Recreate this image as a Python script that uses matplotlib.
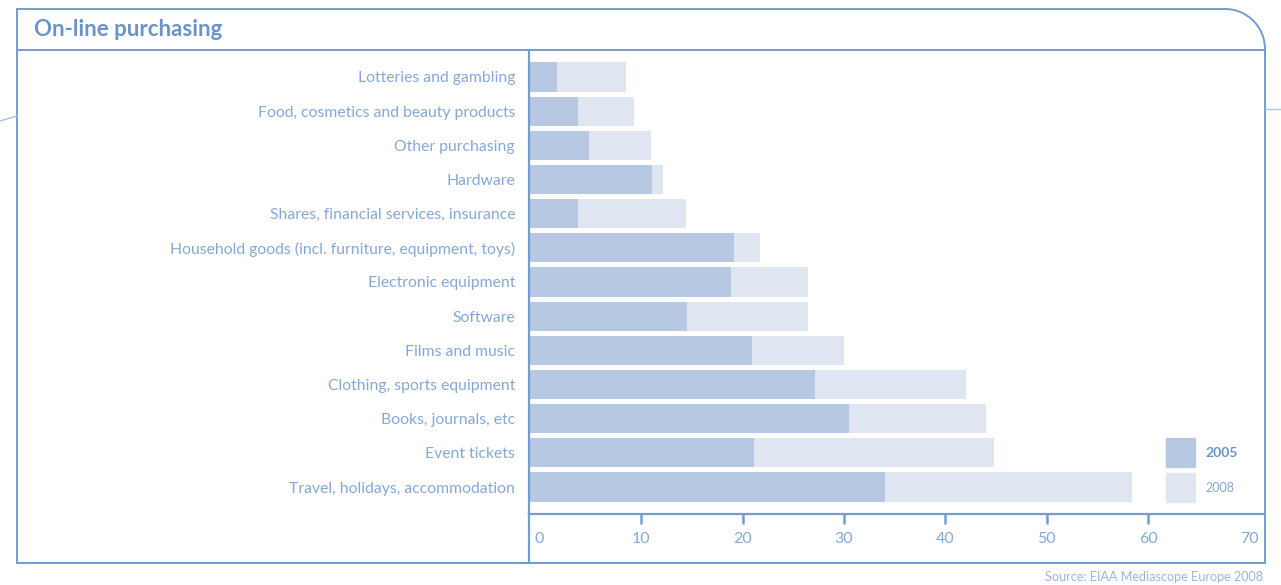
import matplotlib.pyplot as plt
from matplotlib.patches import Arc
from matplotlib.lines import Line2D

categories = [
    "Lotteries and gambling",
    "Food, cosmetics and beauty products",
    "Other purchasing",
    "Hardware",
    "Shares, financial services, insurance",
    "Household goods (incl. furniture, equipment, toys)",
    "Electronic equipment",
    "Software",
    "Films and music",
    "Clothing, sports equipment",
    "Books, journals, etc",
    "Event tickets",
    "Travel, holidays, accommodation",
]
values_2005 = [1.7, 3.8, 4.9, 11.1, 3.8, 19.2, 18.9, 14.5, 20.9, 27.1, 30.5, 21.1, 34.0]
values_2008 = [8.5, 9.3, 11.0, 12.2, 14.4, 21.7, 26.5, 26.5, 30.0, 42.0, 44.0, 44.8, 58.4]
xticks = [0, 10, 20, 30, 40, 50, 60, 70]
series_names = ["2005", "2008"]

W, H = 1281, 585
LINE = "#729dd1"
TEXT = "#86a8d6"
TITLE = "#6a93c9"
C2005 = "#b7c8e3"
C2008 = "#dfe6f2"
FONT = "Lato"

plt.rcParams["font.family"] = [FONT, "DejaVu Sans"]

fig = plt.figure(figsize=(W / 100, H / 100), dpi=100)


def fx(px):
    return px / W


def fy(py):
    return 1 - py / H


# plot area
x0, x1 = -1.05, 71.5
ax = fig.add_axes([fx(529), fy(514), fx(1265) - fx(529), fy(50) - fy(514)])
ypos = list(range(len(categories)))
ax.barh(ypos, [v - x0 for v in values_2008], left=x0, height=0.85, color=C2008, zorder=1)
ax.barh(ypos, [v - x0 for v in values_2005], left=x0, height=0.85, color=C2005, zorder=2)
ax.set_xlim(x0, x1)
ax.set_ylim(len(categories) - 0.21, -0.79)

ax.set_yticks(ypos)
ax.set_yticklabels(categories, fontsize=11.3, color=TEXT)
ax.tick_params(axis="y", length=0, pad=10)
ax.set_xticks(xticks)
ax.set_xticklabels([str(t) for t in xticks], fontsize=11.5, color=TEXT)
ax.tick_params(axis="x", length=7, width=1.8, color=LINE, direction="out", pad=6)
ticks = ax.xaxis.get_major_ticks()
ticks[0].tick1line.set_visible(False)
ticks[-1].tick1line.set_visible(False)

for side in ["top", "right"]:
    ax.spines[side].set_visible(False)
for side in ["left", "bottom"]:
    ax.spines[side].set_color(LINE)
    ax.spines[side].set_linewidth(1.6)
ax.spines["left"].set_bounds(len(categories) - 0.21, -0.79)

# extend left spine down to bottom of frame
fig.add_artist(Line2D([fx(529), fx(529)], [fy(514), fy(563)], color=LINE, lw=1.6))

# legend
for i, (name, col) in enumerate(zip(series_names, [C2005, C2008])):
    top = 438 + i * 35
    fig.patches.append(plt.Rectangle((fx(1166), fy(top + 29)), fx(29), fy(top) - fy(top + 29),
                                     transform=fig.transFigure, color=col, figure=fig))
    fig.text(fx(1205), fy(top + 15), name, fontsize=10 if i == 0 else 9, color=TITLE if i == 0 else TEXT,
             fontweight="bold" if i == 0 else "normal", va="center", ha="left")

# frame with rounded top-right corner
r = 40
left, right, top, bottom = 17, 1265, 9, 563
lw = 1.4
fig.add_artist(Line2D([fx(left), fx(left)], [fy(top), fy(bottom)], color=LINE, lw=lw))
fig.add_artist(Line2D([fx(left), fx(right)], [fy(bottom), fy(bottom)], color=LINE, lw=lw))
fig.add_artist(Line2D([fx(right), fx(right)], [fy(bottom), fy(top + r)], color=LINE, lw=lw))
fig.add_artist(Line2D([fx(left), fx(right - r)], [fy(top), fy(top)], color=LINE, lw=lw))
fig.add_artist(Arc((fx(right - r), fy(top + r)), fx(2 * r), 2 * r / H, theta1=0, theta2=90,
                   transform=fig.transFigure, color=LINE, lw=lw))
fig.add_artist(Line2D([fx(left), fx(right)], [fy(50), fy(50)], color=LINE, lw=lw))
# small decorative strokes outside the frame
fig.add_artist(Line2D([fx(0), fx(left)], [fy(121), fy(116)], color="#a9c2e4", lw=1.0))
fig.add_artist(Line2D([fx(right), fx(W)], [fy(109), fy(109)], color="#a9c2e4", lw=1.0))

fig.text(fx(34), fy(29), "On-line purchasing", fontsize=16, fontweight="bold", color=TITLE,
         va="center", ha="left")
fig.text(fx(1263), fy(577), "Source: EIAA Mediascope Europe 2008", fontsize=9.1, color="#9ab6de",
         va="center", ha="right")

fig.savefig("out.png", dpi=100)
